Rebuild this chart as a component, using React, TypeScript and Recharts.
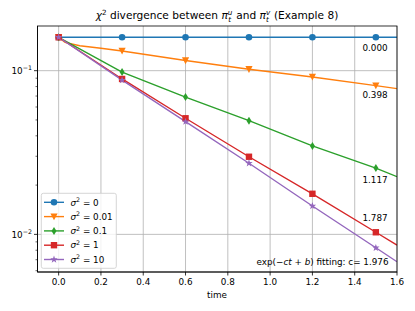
import React from 'react';
import { LineChart, Line, XAxis, YAxis, CartesianGrid } from 'recharts';

// sample times (the last one is where the fitted lines leave the frame)
const times = [0, 0.3, 0.6, 0.9, 1.2, 1.5, 1.6];
const markedTimes = [0, 0.3, 0.6, 0.9, 1.2, 1.5];

const sigma0 = [0.16, 0.16, 0.16, 0.16, 0.16, 0.16, 0.16];
const sigma001 = [0.16, 0.132, 0.1153, 0.102, 0.0915, 0.081, 0.0777];
const sigma001EarlyTimes = [0.03, 0.1, 0.2];
const sigma001Early = [0.149, 0.142, 0.137];
const sigma01 = [0.16, 0.098, 0.069, 0.0495, 0.0347, 0.0254, 0.0225];
const sigma1 = [0.16, 0.089, 0.0512, 0.0298, 0.0177, 0.0103, 0.0086];
const sigma10 = [0.16, 0.0875, 0.0488, 0.0272, 0.0149, 0.00828, 0.0068];

const fitRates = ['0.000', '0.398', '1.117', '1.787', '1.976'];
const legendLabels = ['0', '0.01', '0.1', '1', '10'];

const xTicks = [0, 0.2, 0.4, 0.6, 0.8, 1.0, 1.2, 1.4, 1.6];
const yMajor = [0.01, 0.1];
const yMinor = [0.006, 0.007, 0.008, 0.009, 0.02, 0.03, 0.04, 0.05, 0.06, 0.07, 0.08, 0.09];

const FONT = '"DejaVu Sans", sans-serif';
const FS = 8.8;
const colors = ['#1f77b4', '#ff7f0e', '#2ca02c', '#d62728', '#9467bd'];
const markers = ['circle', 'triangle', 'thin_diamond', 'square', 'star'];

function buildRows(values: number[], extraT: number[] = [], extraV: number[] = []) {
  const rows = times.map((t, i) => ({ t, v: values[i], mark: markedTimes.includes(t) }));
  extraT.forEach((t, i) => rows.push({ t, v: extraV[i], mark: false }));
  return rows.sort((a, b) => a.t - b.t);
}

const series = [
  buildRows(sigma0),
  buildRows(sigma001, sigma001EarlyTimes, sigma001Early),
  buildRows(sigma01),
  buildRows(sigma1),
  buildRows(sigma10),
];

function Marker({ kind, cx, cy, color }: { kind: string; cx: number; cy: number; color: string }) {
  if (kind === 'circle') return <circle cx={cx} cy={cy} r={3.3} fill={color} />;
  if (kind === 'triangle')
    return <polygon points={`${cx - 3.6},${cy - 3.2} ${cx + 3.6},${cy - 3.2} ${cx},${cy + 3.6}`} fill={color} />;
  if (kind === 'thin_diamond')
    return <polygon points={`${cx},${cy - 4} ${cx + 2.5},${cy} ${cx},${cy + 4} ${cx - 2.5},${cy}`} fill={color} />;
  if (kind === 'square') return <rect x={cx - 3.2} y={cy - 3.2} width={6.4} height={6.4} fill={color} />;
  const pts: string[] = [];
  for (let k = 0; k < 10; k++) {
    const r = k % 2 === 0 ? 3.9 : 1.6;
    const a = -Math.PI / 2 + (k * Math.PI) / 5;
    pts.push(`${cx + r * Math.cos(a)},${cy + r * Math.sin(a)}`);
  }
  return <polygon points={pts.join(' ')} fill={color} />;
}

const XTick = ({ x, y, payload }: any) => (
  <g>
    <line x1={x} x2={x} y1={y} y2={y + 3.5} stroke="#000" strokeWidth={0.8} />
    <text x={x} y={y + 13} textAnchor="middle" fontSize={FS} fontFamily={FONT} fill="#000">
      {payload.value.toFixed(1)}
    </text>
  </g>
);

const YTick = ({ x, y, payload }: any) => {
  const major = yMajor.includes(payload.value);
  if (!major) return <line x1={x - 2} x2={x} y1={y} y2={y} stroke="#000" strokeWidth={0.6} />;
  const exp = Math.round(Math.log10(payload.value));
  return (
    <g>
      <line x1={x - 3.5} x2={x} y1={y} y2={y} stroke="#000" strokeWidth={0.8} />
      <text x={x - 5.5} y={y + 3.2} textAnchor="end" fontSize={FS} fontFamily={FONT} fill="#000">
        10
        <tspan dy={-3.8} fontSize={6.3}>{`\u2212${Math.abs(exp)}`}</tspan>
      </text>
    </g>
  );
};

export default function App() {
  return (
    <div style={{ position: 'absolute', left: 0, top: 0, width: 415, height: 311, background: '#fff' }}>
      <LineChart width={415} height={311} margin={{ top: 26, right: 18, left: 0, bottom: 0 }}>
        <CartesianGrid
          stroke="#b0b0b0"
          strokeWidth={0.8}
          horizontalValues={yMajor}
          verticalValues={xTicks}
        />
        <XAxis
          type="number"
          dataKey="t"
          domain={[-0.1, 1.6]}
          ticks={xTicks}
          allowDataOverflow
          height={39}
          tickLine={false}
          tickSize={0}
          tickMargin={0}
          axisLine={{ stroke: '#000', strokeWidth: 0.8 }}
          tick={<XTick />}
          interval={0}
        />
        <YAxis
          type="number"
          scale="log"
          domain={[0.00589, 0.1875]}
          ticks={[...yMinor, ...yMajor]}
          allowDataOverflow
          width={37.5}
          tickLine={false}
          tickSize={0}
          tickMargin={0}
          axisLine={{ stroke: '#000', strokeWidth: 0.8 }}
          tick={<YTick />}
          interval={0}
        />
        {series.map((rows, i) => (
          <Line
            key={i}
            data={rows}
            dataKey="v"
            type="linear"
            stroke={colors[i]}
            strokeWidth={1.4}
            isAnimationActive={false}
            dot={(p: any) =>
              p.payload.mark ? (
                <Marker key={`m${i}-${p.index}`} kind={markers[i]} cx={p.cx} cy={p.cy} color={colors[i]} />
              ) : (
                <g key={`m${i}-${p.index}`} />
              )
            }
            activeDot={false}
          />
        ))}
      </LineChart>
      <svg
        width={415}
        height={311}
        style={{ position: 'absolute', left: 0, top: 0, pointerEvents: 'none' }}
        fontFamily={FONT}
      >
        <rect x={37.5} y={26} width={359.5} height={246} fill="none" stroke="#000" strokeWidth={0.8} />
        <text x={217} y={19} textAnchor="middle" fontSize={10.6} fill="#000">
          <tspan fontStyle="italic">χ</tspan>
          <tspan dy={-4} fontSize={7.2}>2</tspan>
          <tspan dy={4}> divergence between </tspan>
          <tspan fontStyle="italic">π</tspan>
          <tspan dy={-4.2} fontSize={7.2} fontStyle="italic">u</tspan>
          <tspan dx={-4.2} dy={7.2} fontSize={7.2} fontStyle="italic">t</tspan>
          <tspan dx={1.8} dy={-3}> and </tspan>
          <tspan fontStyle="italic">π</tspan>
          <tspan dy={-4.2} fontSize={7.2} fontStyle="italic">v</tspan>
          <tspan dx={-4.2} dy={7.2} fontSize={7.2} fontStyle="italic">t</tspan>
          <tspan dx={1.8} dy={-3}> (Example 8)</tspan>
        </text>
        <text x={217} y={298} textAnchor="middle" fontSize={FS} fill="#000">time</text>
        <g fontSize={FS} fill="#000" textAnchor="middle">
          <text x={375} y={50.5}>{fitRates[0]}</text>
          <text x={375} y={98}>{fitRates[1]}</text>
          <text x={375} y={182.5}>{fitRates[2]}</text>
          <text x={375} y={220.5}>{fitRates[3]}</text>
        </g>
        <text x={388.5} y={264.5} textAnchor="end" fontSize={FS} fill="#000">
          exp(−<tspan fontStyle="italic">ct</tspan> + <tspan fontStyle="italic">b</tspan>) fitting: c= {fitRates[4]}
        </text>
        <rect x={41.3} y={193.3} width={75} height={75} rx={2} fill="#fff" fillOpacity={0.8} stroke="#cccccc" strokeWidth={0.8} />
        {legendLabels.map((lab, i) => {
          const y = 202.3 + i * 14.3;
          return (
            <g key={lab}>
              <line x1={44} x2={64} y1={y} y2={y} stroke={colors[i]} strokeWidth={1.4} />
              <Marker kind={markers[i]} cx={54} cy={y} color={colors[i]} />
              <text x={70.5} y={y + 3.2} fontSize={FS} fill="#000">
                <tspan fontStyle="italic">σ</tspan>
                <tspan dy={-3.6} fontSize={6.3}>2</tspan>
                <tspan dy={3.6}>{` = ${lab}`}</tspan>
              </text>
            </g>
          );
        })}
      </svg>
    </div>
  );
}
